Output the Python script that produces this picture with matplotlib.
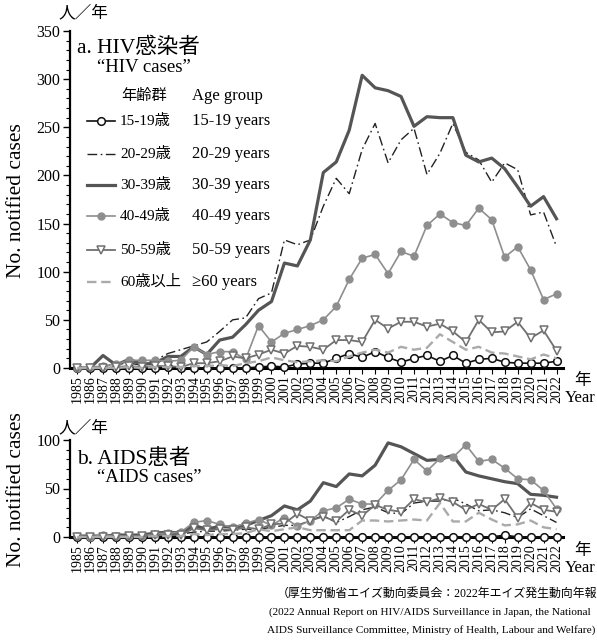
import matplotlib
matplotlib.use("Agg")
import matplotlib.pyplot as plt
from matplotlib.ticker import MultipleLocator

plt.rcParams['font.family'] = ['Liberation Serif', 'Noto Sans CJK JP']

years = list(range(1985, 2023))

# HIV cases by age group
hiv_15_19 = [0, 0, 0, 0, 0, 0, 0, 1, 0, 0, 0, 0, 0, 0, 1, 2, 1, 4, 5, 5,
             10, 15, 11, 17, 11, 6, 10, 13, 7, 13, 5, 9, 10, 6, 5, 5, 5, 7]
hiv_20_29 = [0, 0, 2, 4, 5, 3, 8, 15, 19, 23, 27, 38, 50, 52, 72, 78, 133, 128, 133, 168,
             197, 181, 227, 254, 213, 237, 249, 201, 223, 254, 224, 216, 193, 213, 206, 159, 162, 126]
hiv_30_39 = [0, 0, 13, 3, 9, 4, 5, 12, 12, 22, 14, 29, 32, 45, 60, 69, 109, 106, 133, 203,
             214, 247, 304, 291, 288, 282, 251, 261, 260, 260, 221, 214, 218, 207, 188, 168, 178, 155]
hiv_40_49 = [0, 1, 2, 4, 8, 8, 8, 7, 8, 22, 14, 17, 17, 9, 44, 27, 36, 40, 44, 50,
             64, 92, 114, 118, 98, 121, 116, 148, 160, 151, 148, 166, 154, 115, 126, 102, 71, 77]
hiv_50_59 = [0, 0, 0, 1, 2, 1, 2, 2, 1, 5, 5, 7, 12, 10, 14, 19, 15, 23, 22, 19,
             29, 29, 27, 50, 41, 48, 48, 43, 46, 38, 27, 50, 37, 38, 48, 31, 39, 18]
hiv_60 = [0, 0, 0, 0, 1, 0, 1, 1, 1, 2, 2, 3, 2, 5, 7, 11, 8, 6, 7, 8,
          7, 12, 16, 19, 16, 22, 19, 21, 35, 27, 19, 22, 16, 15, 12, 9, 14, 10]

# AIDS cases by age group
aids_15_19 = [0] * 33 + [2, 0, 0, 0, 0]
aids_20_29 = [0, 0, 1, 1, 1, 1, 2, 2, 3, 5, 6, 6, 7, 8, 8, 10, 12, 12, 17, 22,
              15, 21, 28, 31, 25, 24, 35, 37, 37, 40, 34, 27, 28, 25, 20, 29, 22, 15]
aids_30_39 = [1, 1, 1, 2, 2, 2, 4, 5, 4, 12, 8, 11, 10, 12, 17, 22, 32, 28, 37, 56,
              52, 65, 63, 74, 97, 93, 86, 79, 80, 84, 67, 63, 60, 57, 55, 44, 43, 41]
aids_40_49 = [1, 0, 2, 1, 1, 1, 3, 4, 5, 15, 17, 13, 10, 14, 18, 12, 20, 11, 17, 27,
              30, 39, 34, 34, 48, 59, 80, 68, 81, 82, 95, 78, 80, 71, 60, 59, 48, 29]
aids_50_59 = [0, 0, 0, 0, 1, 1, 2, 2, 2, 9, 7, 8, 7, 10, 8, 13, 14, 24, 17, 21,
              16, 28, 22, 33, 28, 26, 39, 36, 40, 36, 28, 34, 28, 39, 20, 35, 28, 26]
aids_60 = [0, 0, 0, 0, 0, 0, 1, 1, 1, 3, 2, 3, 3, 4, 8, 6, 8, 10, 7, 7,
           7, 7, 17, 17, 16, 17, 18, 17, 35, 16, 16, 25, 18, 12, 13, 17, 10, 8]

groups_jp = ['15-19歳', '20-29歳', '30-39歳', '40-49歳', '50-59歳', '60歳以上']
groups_en = ['15-19 years', '20-29 years', '30-39 years', '40-49 years', '50-59 years', '≥60 years']

styles = [
    dict(color='#111111', lw=1.2, marker='o', ms=5.5, mfc='white', mec='#111111', mew=1.1),
    dict(color='#222222', lw=1.0, dashes=(7, 2.5, 1.2, 2.5)),
    dict(color='#555555', lw=2.3),
    dict(color='#8e8e8e', lw=1.2, marker='o', ms=5, mfc='#8e8e8e', mec='#8e8e8e'),
    dict(color='#707070', lw=1.3, marker='v', ms=6.3, mfc='white', mec='#707070', mew=1.1),
    dict(color='#aaaaaa', lw=1.7, dashes=(4, 2)),
]
# draw order: back to front
order = [5, 3, 4, 1, 2, 0]

W, H = 597, 642


def fx(x):
    return x / W


def fy(y):
    return 1 - y / H


def setup_axes(ax, ymax):
    ax.set_xlim(1984.45, 2022.5)
    ax.set_ylim(0, ymax)
    ax.spines['top'].set_visible(False)
    ax.spines['right'].set_visible(False)
    ax.spines['left'].set_linewidth(1.6)
    ax.spines['bottom'].set_linewidth(2.2)
    ax.yaxis.set_major_locator(MultipleLocator(50))
    ax.yaxis.set_minor_locator(MultipleLocator(10))
    ax.set_xticks(years)
    ax.set_xticklabels([str(y) for y in years], rotation=90, fontsize=10)
    ax.tick_params(axis='x', length=4, width=0.8, pad=1)
    ax.tick_params(axis='y', which='major', length=5, width=1, labelsize=11.5, pad=2)
    ax.tick_params(axis='y', which='minor', length=3, width=0.8)


fig = plt.figure(figsize=(W / 100, H / 100), dpi=100)

ax1 = fig.add_axes([fx(70), fy(368), fx(563) - fx(70), fy(31) - fy(368)])
ax2 = fig.add_axes([fx(70), fy(537), fx(563) - fx(70), fy(440) - fy(537)])

hiv = [hiv_15_19, hiv_20_29, hiv_30_39, hiv_40_49, hiv_50_59, hiv_60]
aids = [aids_15_19, aids_20_29, aids_30_39, aids_40_49, aids_50_59, aids_60]

for ax, data, ymax in [(ax1, hiv, 350), (ax2, aids, 100)]:
    setup_axes(ax, ymax)
    for i in order:
        ax.plot(years, data[i], clip_on=False, zorder=3 + i, **styles[i])

# y labels
fig.text(fx(17), fy(201), 'No. notified cases', fontsize=15.5, rotation=90,
         ha='center', va='center')
fig.text(fx(17), fy(490), 'No. notified cases', fontsize=15.5, rotation=90,
         ha='center', va='center')

# panel titles
fig.text(fx(77), fy(48), 'a. HIV感染者', fontsize=15.5, va='center')
fig.text(fx(97), fy(68), '“HIV cases”', fontsize=13.5, va='center')
fig.text(fx(77), fy(459), 'b. AIDS患者', fontsize=15.5, va='center')
fig.text(fx(97), fy(478), '“AIDS cases”', fontsize=13.5, va='center')

# unit labels
fig.text(fx(58), fy(13), '人／年', fontsize=12, va='center')
fig.text(fx(58), fy(428), '人／年', fontsize=12, va='center')
for ybase in (381, 551):
    fig.text(fx(574), fy(ybase), '年', fontsize=12, va='center')
    fig.text(fx(565), fy(ybase + 17), 'Year', fontsize=12, va='center')

# legend drawn by hand
fig.text(fx(121), fy(96), '年齢群', fontsize=11, va='center')
fig.text(fx(192), fy(96), 'Age group', fontsize=12, va='center')
row_y = [121, 154, 185, 216, 250, 282]
for i, yy in enumerate(row_y):
    st = dict(styles[i])
    if 'marker' in st:
        st['markevery'] = [1]
    ax1.plot([fx(87), fx(101), fx(115)], [fy(yy)] * 3, transform=fig.transFigure,
             clip_on=False, **st)
    fig.text(fx(120), fy(yy), groups_jp[i], fontsize=11, va='center')
    fig.text(fx(192), fy(yy), groups_en[i], fontsize=12, va='center')

# source
fig.text(fx(597), fy(594), '（厚生労働省エイズ動向委員会：2022年エイズ発生動向年報',
         fontsize=8.6, ha='right', va='center')
fig.text(fx(591), fy(612), '(2022 Annual Report on HIV/AIDS Surveillance in Japan, the National',
         fontsize=8.1, ha='right', va='center')
fig.text(fx(595), fy(630), 'AIDS Surveillance Committee, Ministry of Health, Labour and Welfare)',
         fontsize=8.1, ha='right', va='center')

fig.savefig('out.png', dpi=100)
